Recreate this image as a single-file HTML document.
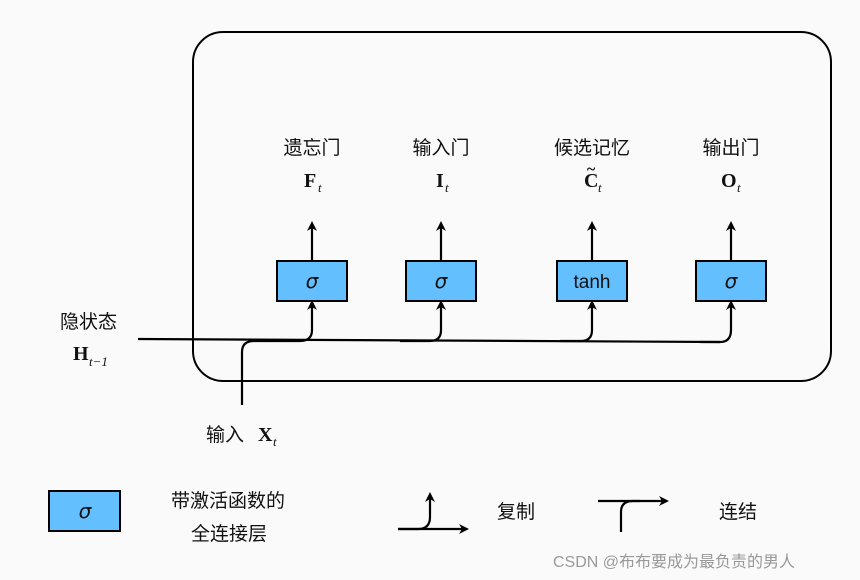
<!DOCTYPE html>
<html><head><meta charset="utf-8"><style>
html,body{margin:0;padding:0;background:#fafafa;}
svg{display:block}
.cn{font-family:"Liberation Sans","Noto Sans CJK SC",sans-serif;font-size:19px;fill:#111}
.m{font-family:"Liberation Serif",serif;font-weight:bold;font-size:20px;fill:#111}
.s{font-family:"Liberation Serif",serif;font-style:italic;font-size:13px;fill:#111}
.g{font-family:"DejaVu Sans",sans-serif;font-style:italic;font-size:20px;fill:#111}
</style></head><body>
<svg width="860" height="580" viewBox="0 0 860 580" xmlns="http://www.w3.org/2000/svg">
<defs><marker id="a" markerWidth="10" markerHeight="10" refX="5" refY="5" orient="auto" markerUnits="userSpaceOnUse">
<path d="M0,0 L10,5 L0,10 L3,5 Z" fill="#000"/></marker></defs>
<rect x="193" y="32" width="638" height="349" rx="30" fill="none" stroke="#000" stroke-width="2"/>
<g fill="none" stroke="#000" stroke-width="2.2">
<path d="M138,339 L720,342"/>
<path d="M242,405 L242,352 Q242,341 254,341 L300,341 Q312,341 312,330 L312,305" marker-end="url(#a)"/>
<path d="M400,341 L430,341 Q441,341 441,330 L441,305" marker-end="url(#a)"/>
<path d="M560,341 L581,341 Q592,341 592,330 L592,305" marker-end="url(#a)"/>
<path d="M700,342 L720,342 Q731,342 731,330 L731,305" marker-end="url(#a)"/>
<path d="M312,261 L312,226" marker-end="url(#a)"/>
<path d="M441,261 L441,226" marker-end="url(#a)"/>
<path d="M592,261 L592,226" marker-end="url(#a)"/>
<path d="M731,261 L731,226" marker-end="url(#a)"/>
<path d="M398,529 L418,529 Q430,529 430,517 L430,497" marker-end="url(#a)"/>
<path d="M398,529 L464,529" marker-end="url(#a)"/>
<path d="M621,532 L621,512 Q621,501 633,501 L664,501" marker-end="url(#a)"/>
<path d="M598,501 L640,501"/>
</g>
<g fill="#64bfff" stroke="#000" stroke-width="2">
<rect x="277" y="261" width="70" height="40"/>
<rect x="406" y="261" width="70" height="40"/>
<rect x="557" y="261" width="70" height="40"/>
<rect x="696" y="261" width="70" height="40"/>
<rect x="49" y="491" width="71" height="40"/>
</g>
<text class="g" x="312" y="288" text-anchor="middle">σ</text>
<text class="g" x="441" y="288" text-anchor="middle">σ</text>
<text x="592" y="288" text-anchor="middle" style="font-family:'Liberation Sans',sans-serif;font-size:19px;fill:#111">tanh</text>
<text class="g" x="731" y="288" text-anchor="middle">σ</text>
<text class="g" x="85" y="518" text-anchor="middle">σ</text>
<text class="cn" x="312" y="154" text-anchor="middle">遗忘门</text>
<text class="cn" x="441" y="154" text-anchor="middle">输入门</text>
<text class="cn" x="592" y="154" text-anchor="middle">候选记忆</text>
<text class="cn" x="731" y="154" text-anchor="middle">输出门</text>
<text class="m" x="304" y="187">F</text><text class="s" x="318" y="192">t</text>
<text class="m" x="436" y="187">I</text><text class="s" x="445" y="192">t</text>
<text class="m" x="584" y="187">C</text><text class="s" x="598" y="192">t</text>
<text x="591" y="174" text-anchor="middle" style="font-family:'Liberation Serif',serif;font-size:16px;font-weight:bold">~</text>
<text class="m" x="721" y="187">O</text><text class="s" x="737" y="192">t</text>
<text class="cn" x="60" y="328">隐状态</text>
<text class="m" x="73" y="360">H</text><text class="s" x="89" y="366">t−1</text>
<text class="cn" x="206" y="441">输入</text>
<text class="m" x="258" y="441">X</text><text class="s" x="273" y="446">t</text>
<text class="cn" x="171" y="507">带激活函数的</text>
<text class="cn" x="191" y="540">全连接层</text>
<text class="cn" x="497" y="518">复制</text>
<text class="cn" x="719" y="518">连结</text>
<text x="553" y="567" style="font-family:'Liberation Sans','Noto Sans CJK SC',sans-serif;font-size:16px;fill:#999">CSDN @布布要成为最负责的男人</text>
</svg>
</body></html>
